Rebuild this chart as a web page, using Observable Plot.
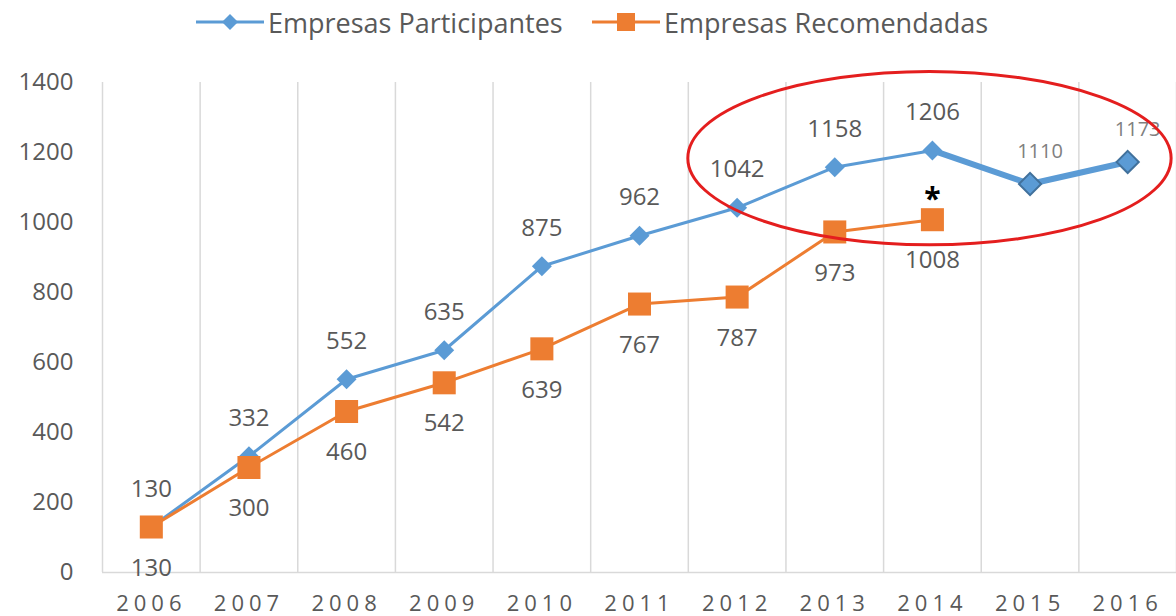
<!DOCTYPE html>
<html>
<head>
<meta charset="utf-8">
<script src="https://cdn.jsdelivr.net/npm/d3@7"></script>
<script src="https://cdn.jsdelivr.net/npm/@observablehq/plot@0.6"></script>
<style>
  html, body { margin: 0; padding: 0; background: #fff; }
  body { width: 1176px; height: 616px; overflow: hidden; font-family: "Open Sans", sans-serif; }
  #legend { position: relative; height: 44px; }
  .item { position: absolute; top: 0; height: 44px; display: flex; align-items: center; color: #595959; font-size: 27px; }
  .item svg { margin-right: 4px; }
  [aria-label="x-axis tick label"] text { letter-spacing: 5px; }
</style>
</head>
<body>
<div id="legend"></div>
<div id="chart"></div>
<script>
// ---- data ----
const years = [2006, 2007, 2008, 2009, 2010, 2011, 2012, 2013, 2014, 2015, 2016];
const participantes = [130, 332, 552, 635, 875, 962, 1042, 1158, 1206, 1110, 1173];
const recomendadasYears = [2006, 2007, 2008, 2009, 2010, 2011, 2012, 2013, 2014];
const recomendadas = [130, 300, 460, 542, 639, 767, 787, 973, 1008];
const seriesNames = ["Empresas Participantes", "Empresas Recomendadas"];
const yTicks = [0, 200, 400, 600, 800, 1000, 1200, 1400];
const highlightYears = [2011.5, 2016.45];
const highlightValues = [935, 1430];

const blue = "#5B9BD5", orange = "#ED7D31", textGray = "#595959";

const partRows = years.map((year, i) => ({year, value: participantes[i]}));
const recRows = recomendadasYears.map((year, i) => ({year, value: recomendadas[i]}));
const bounds = years.map(y => y - 0.5).concat([years[years.length - 1] + 0.5]);

// ---- legend ----
const legend = document.getElementById("legend");
const legendItems = [
  {name: seriesNames[0], color: blue, left: 196, shape: "diamond"},
  {name: seriesNames[1], color: orange, left: 592, shape: "square"}
];
for (const it of legendItems) {
  const div = document.createElement("div");
  div.className = "item";
  div.style.left = it.left + "px";
  const marker = it.shape === "diamond"
    ? `<path d="M34,12 L42,20 L34,28 L26,20 Z" fill="${it.color}"/>`
    : `<rect x="25" y="11" width="18" height="18" fill="${it.color}"/>`;
  div.innerHTML = `<svg width="68" height="40"><line x1="0" x2="68" y1="20" y2="20" stroke="${it.color}" stroke-width="3"/>${marker}</svg><span>${it.name}</span>`;
  legend.appendChild(div);
}

// ---- chart ----
const ellipseMark = (index, scales, values, dimensions, context) => {
  const x0 = scales.x(highlightYears[0]), x1 = scales.x(highlightYears[1]);
  const y0 = scales.y(highlightValues[0]), y1 = scales.y(highlightValues[1]);
  return d3.create("svg:ellipse")
    .attr("cx", (x0 + x1) / 2).attr("cy", (y0 + y1) / 2)
    .attr("rx", Math.abs(x1 - x0) / 2).attr("ry", Math.abs(y0 - y1) / 2)
    .attr("fill", "none").attr("stroke", "#E41E1E").attr("stroke-width", 3)
    .node();
};

const chart = Plot.plot({
  width: 1176,
  height: 572,
  marginLeft: 102,
  marginRight: 0,
  marginTop: 38,
  marginBottom: 44,
  x: {domain: [2005.5, 2016.5], axis: null, label: null},
  y: {domain: [0, 1400], axis: null, label: null},
  style: {fontFamily: "'Open Sans', sans-serif", background: "#fff", overflow: "visible"},
  marks: [
    Plot.ruleX(bounds, {y1: 0, y2: 1400, stroke: "#D9D9D9", strokeWidth: 1.5}),
    Plot.ruleY([0], {stroke: "#D9D9D9", strokeWidth: 1.5}),
    Plot.axisY(yTicks, {tickSize: 0, tickPadding: 29, fontSize: 24, fill: textGray, label: null, tickFormat: d => String(d)}),
    Plot.axisX(years, {tickSize: 0, tickPadding: 23, fontSize: 22, fill: textGray, label: null, tickFormat: d => String(d)}),
    Plot.line(partRows, {x: "year", y: "value", stroke: blue, strokeWidth: 3}),
    Plot.line(partRows.filter(d => d.year >= 2014), {x: "year", y: "value", stroke: blue, strokeWidth: 6}),
    Plot.dot(partRows.filter(d => d.year <= 2014), {x: "year", y: "value", symbol: "diamond2", r: 9, fill: blue}),
    Plot.dot(partRows.filter(d => d.year > 2014), {x: "year", y: "value", symbol: "diamond2", r: 10, fill: blue, stroke: "#41719C", strokeWidth: 2}),
    Plot.line(recRows, {x: "year", y: "value", stroke: orange, strokeWidth: 3}),
    Plot.dot(recRows, {x: "year", y: "value", symbol: "square", r: 13, fill: orange}),
    Plot.text(partRows.filter(d => d.year <= 2014), {x: "year", y: "value", text: d => String(d.value), dy: -38, fontSize: 24, fill: textGray}),
    Plot.text(partRows.filter(d => d.year > 2014), {x: "year", y: "value", text: d => String(d.value), dy: -32, dx: 10, fontSize: 20, fill: "#808080"}),
    Plot.text(recRows, {x: "year", y: "value", text: d => String(d.value), dy: 41, fontSize: 24, fill: textGray}),
    Plot.text(recRows.filter(d => d.year === 2014), {x: "year", y: "value", text: () => "*", dy: -20, fontSize: 30, fontWeight: "bold", fill: "#000"}),
    ellipseMark
  ]
});
document.getElementById("chart").appendChild(chart);
</script>
</body>
</html>
